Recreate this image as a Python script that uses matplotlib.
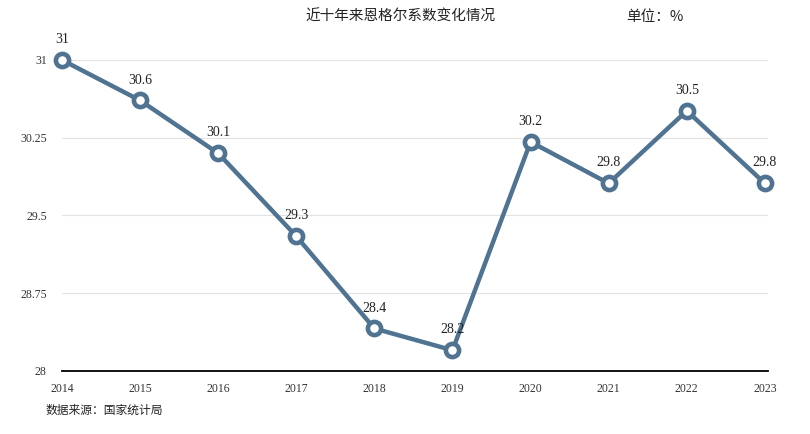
import matplotlib
matplotlib.use("Agg")
import matplotlib.pyplot as plt

years = [2014, 2015, 2016, 2017, 2018, 2019, 2020, 2021, 2022, 2023]
values = [31.0, 30.61, 30.10, 29.30, 28.41, 28.20, 30.21, 29.81, 30.51, 29.81]
labels = ["31", "30.6", "30.1", "29.3", "28.4", "28.2", "30.2", "29.8", "30.5", "29.8"]
yticks = [28, 28.75, 29.5, 30.25, 31]
ytick_labels = ["28", "28.75", "29.5", "30.25", "31"]

serif = ["Liberation Serif", "Noto Sans CJK SC", "DejaVu Serif"]
cjk = ["Noto Sans CJK SC", "Liberation Serif"]
plt.rcParams['font.family'] = serif

fig = plt.figure(figsize=(8.1, 4.34), dpi=100)
ax = fig.add_axes([62/810, 1-371/434, (768-62)/810, (371-60)/434])
color = "#4f7391"
ax.plot(years, values, color=color, lw=3.2, marker="o", markersize=9.5,
        markerfacecolor="white", markeredgecolor=color, markeredgewidth=3.3,
        clip_on=False, zorder=3)
for x, y, t in zip(years, values, labels):
    ax.annotate(t, (x, y), xytext=(0, 10), textcoords="offset points",
                ha="center", va="bottom", fontsize=10, color="#222222")
ax.set_ylim(28, 31)
ax.set_xlim(2014, 2023.04)
ax.set_yticks(yticks)
ax.set_yticklabels(ytick_labels)
ax.set_xticks(years)
ax.set_xticklabels([str(y) for y in years])
ax.tick_params(axis='both', length=0, labelsize=8.5, colors="#333333")
ax.tick_params(axis='y', pad=11)
ax.tick_params(axis='x', pad=9)
for s in ["top", "right", "left"]:
    ax.spines[s].set_visible(False)
ax.spines["bottom"].set_color("black")
ax.spines["bottom"].set_linewidth(1.3)
ax.grid(axis='y', color="#e3e3e3", lw=0.8)
ax.set_axisbelow(True)

fig.text(400/810, 1-17/434, "近十年来恩格尔系数变化情况", ha="center", va="center",
         fontsize=10.5, family=cjk, color="#222222")
fig.text(655/810, 1-17/434, "单位：%", ha="center", va="center",
         fontsize=10.5, family=cjk, color="#222222")
fig.text(46/810, 1-410/434, "数据来源：国家统计局", ha="left", va="center",
         fontsize=8.5, family=cjk, color="#222222")

fig.savefig("out.png", dpi=100)
